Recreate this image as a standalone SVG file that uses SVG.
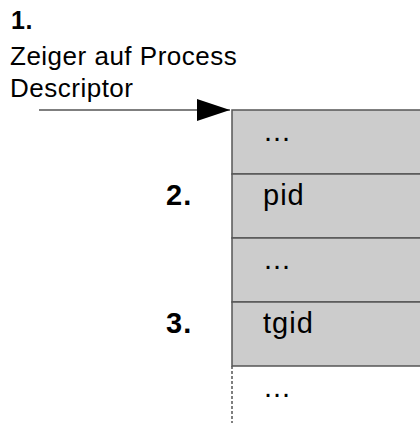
<svg xmlns="http://www.w3.org/2000/svg" width="420" height="423" viewBox="0 0 420 423">
<defs>
<style>
.t{font-family:"Liberation Sans",Arial,sans-serif;font-size:26px;fill:#000;letter-spacing:0.5px}
.r{font-size:29px;letter-spacing:1px}
.b{font-weight:bold}
.n{font-size:29px;letter-spacing:1px}
.row{fill:#cccccc;stroke:#555;stroke-width:1.5}
.con{stroke:#555;stroke-width:1.5;fill:none}
</style>
<marker id="ah" markerWidth="33" markerHeight="22" refX="33" refY="11" orient="auto" markerUnits="userSpaceOnUse">
<path d="M0,0 L33,11 L0,22 Z" fill="#000"/>
</marker>
</defs>
<g id="label1">
<text class="t b" x="11" y="29" style="font-size:25px">1.</text>
<text class="t" x="10" y="65">Zeiger auf Process</text>
<text class="t" x="10" y="97">Descriptor</text>
</g>
<g id="struct">
<rect class="row" x="232" y="110" width="200" height="64"/>
<rect class="row" x="232" y="174" width="200" height="64"/>
<rect class="row" x="232" y="238" width="200" height="64"/>
<rect class="row" x="232" y="302" width="200" height="64"/>
<line class="con" x1="232" y1="366" x2="232" y2="423" stroke-dasharray="3,2"/>
<text class="t r" x="264" y="141">...</text>
<text class="t r" x="263" y="205">pid</text>
<text class="t r" x="264" y="269">...</text>
<text class="t r" x="263" y="333">tgid</text>
<text class="t r" x="264" y="397">...</text>
</g>
<g id="label2"><text class="t b n" x="166" y="205">2.</text></g>
<g id="label3"><text class="t b n" x="166" y="333">3.</text></g>
<g id="connectors">
<line class="con" x1="39" y1="110" x2="230" y2="110" marker-end="url(#ah)"/>
</g>
</svg>
